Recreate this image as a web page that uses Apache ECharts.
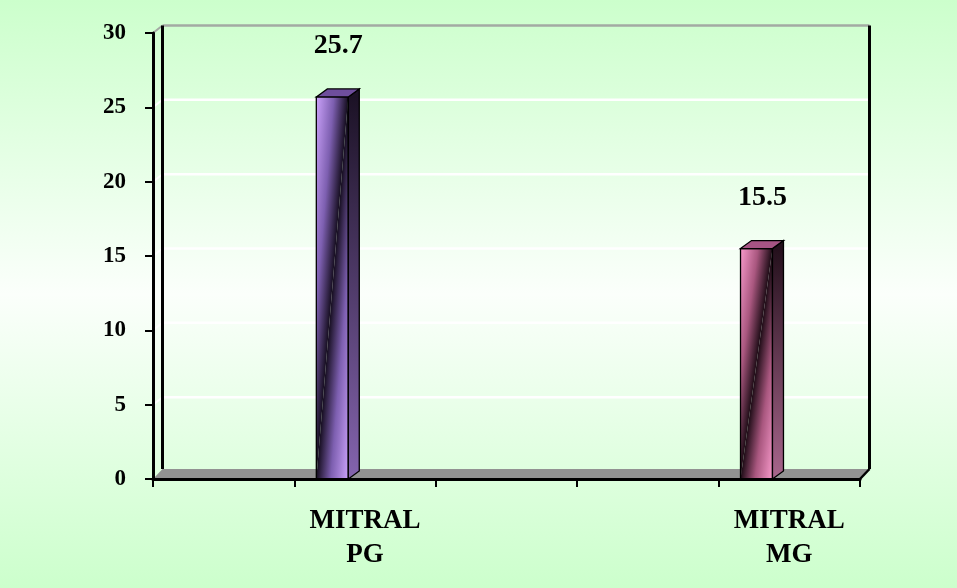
<!DOCTYPE html>
<html><head><meta charset="utf-8">
<script src="https://cdn.jsdelivr.net/npm/echarts@6/dist/echarts.min.js"></script>
<style>html,body{margin:0;padding:0;width:957px;height:588px;overflow:hidden}#c{width:957px;height:588px}</style>
</head><body><div id="c"></div>
<script>
// ---- data ----
const categories = ['', 'MITRAL\nPG', '', '', 'MITRAL\nMG'];
const values = [null, 25.7, null, null, 15.5];
const yTicks = [0, 5, 10, 15, 20, 25, 30];

// ---- styles ----
const FONT = '"Liberation Serif", "Times New Roman", serif';
const palettes = {
  1: {light: '#cba2fa', mid: '#7d5fb0', dark: '#160e20', sideTop: '#1c1226', sideBot: '#8464ae', top: '#6e4e9c'},
  4: {light: '#f89acb', mid: '#a9577f', dark: '#1e0c16', sideTop: '#24101c', sideBot: '#a8668c', top: '#a65484'}
};
const DX = 11, DY = -8;        // bar depth
const WX = 9.5, WY = -7.5;     // wall depth
const FY = -10;                // floor depth

const barData = [];
values.forEach((v, i) => { if (v !== null) barData.push([i, v]); });

const chart = echarts.init(document.getElementById('c'));

function gradGlobal(x1, y1, x2, y2, stops) {
  return {type: 'linear', x: x1, y: y1, x2: x2, y2: y2, global: true,
    colorStops: stops.map(s => ({offset: s[0], color: s[1]}))};
}

chart.setOption({
  backgroundColor: {type: 'linear', x: 0, y: 0, x2: 0, y2: 1, colorStops: [
    {offset: 0, color: '#ccffcc'}, {offset: 0.5, color: '#fbfffb'}, {offset: 1, color: '#ccffcc'}]},
  animation: false,
  grid: {left: 153, right: 97, top: 33, bottom: 109},
  xAxis: {
    type: 'category', data: categories, z: 10,
    axisLine: {lineStyle: {color: '#000', width: 3}},
    axisTick: {show: true, length: 8, lineStyle: {color: '#000', width: 2}},
    axisLabel: {color: '#000', fontFamily: FONT, fontWeight: 'bold', fontSize: 27, lineHeight: 34, margin: 25, interval: 0}
  },
  yAxis: {
    type: 'value', min: 0, max: 30, interval: 5, z: 10,
    axisLine: {show: true, lineStyle: {color: '#000', width: 3}},
    axisTick: {show: true, length: 8, lineStyle: {color: '#000', width: 2}},
    axisLabel: {color: '#000', fontFamily: FONT, fontWeight: 'bold', fontSize: 23, margin: 27},
    splitLine: {show: false}
  },
  series: [
    {
      type: 'custom', z: 1, silent: true,
      data: [[0, 0]],
      renderItem(params, api) {
        const cs = params.coordSys;
        const L = cs.x, R = cs.x + cs.width, T = cs.y;
        const y0 = api.coord([0, 0])[1];
        const ch = [];
        // gridlines
        yTicks.forEach(t => {
          if (t === 0) return;
          const y = api.coord([0, t])[1];
          const col = t === 30 ? '#a3aaa3' : '#ffffff';
          ch.push({type: 'line', shape: {x1: L + WX, y1: y + WY, x2: R + WX, y2: y + WY}, style: {stroke: col, lineWidth: 2.5}});
          ch.push({type: 'line', shape: {x1: L, y1: y, x2: L + WX, y2: y + WY}, style: {stroke: col, lineWidth: 2}});
        });
        // back-left wall edge
        ch.push({type: 'line', shape: {x1: L + WX, y1: T + WY, x2: L + WX, y2: y0 + FY}, style: {stroke: '#000', lineWidth: 3}});
        // right wall edge
        ch.push({type: 'line', shape: {x1: R + WX, y1: T + WY, x2: R + WX, y2: y0 + FY}, style: {stroke: '#000', lineWidth: 3}});
        // floor
        ch.push({type: 'polygon', shape: {points: [[L, y0], [L + WX, y0 + FY], [R + WX, y0 + FY], [R, y0]]},
          style: {fill: '#929292'}});
        ch.push({type: 'line', shape: {x1: R, y1: y0, x2: R + WX, y2: y0 + FY}, style: {stroke: '#000', lineWidth: 2.5}});
        return {type: 'group', children: ch};
      }
    },
    {
      type: 'custom', z: 3,
      data: barData,
      renderItem(params, api) {
        const ci = api.value(0), v = api.value(1);
        const p = palettes[ci];
        const top = api.coord([ci, v]);
        const base = api.coord([ci, 0]);
        const bw = api.size([1, 0])[0];
        const x0 = top[0] - bw * 0.345, x1 = x0 + bw * 0.226;
        const yT = top[1], yB = base[1];
        // diagonal from (x1,yT) to (x0,yB); perpendicular feet
        const ux = x0 - x1, uy = yB - yT, ul = Math.hypot(ux, uy);
        const foot = (px, py) => {
          const t = ((px - x1) * ux + (py - yT) * uy) / (ul * ul);
          return [x1 + t * ux, yT + t * uy];
        };
        const fA = foot(x0, yT), fB = foot(x1, yB);
        const ch = [];
        ch.push({type: 'polygon', shape: {points: [[x0, yT], [x1, yT], [x0, yB]]},
          style: {fill: gradGlobal(x0, yT, fA[0], fA[1], [[0, p.light], [0.55, p.mid], [1, p.dark]])}});
        ch.push({type: 'polygon', shape: {points: [[x1, yT], [x1, yB], [x0, yB]]},
          style: {fill: gradGlobal(fB[0], fB[1], x1, yB, [[0, p.dark], [0.45, p.mid], [1, p.light]])}});
        ch.push({type: 'rect', shape: {x: x0, y: yT, width: x1 - x0, height: yB - yT},
          style: {fill: null, stroke: '#000', lineWidth: 1.3}});
        ch.push({type: 'polygon', shape: {points: [[x1, yT], [x1 + DX, yT + DY], [x1 + DX, yB + DY], [x1, yB]]},
          style: {fill: gradGlobal(0, yT, 0, yB, [[0, p.sideTop], [1, p.sideBot]]), stroke: '#000', lineWidth: 1.3}});
        ch.push({type: 'polygon', shape: {points: [[x0, yT], [x0 + DX, yT + DY], [x1 + DX, yT + DY], [x1, yT]]},
          style: {fill: p.top, stroke: '#000', lineWidth: 1.3}});
        ch.push({type: 'text', x: (x0 + x1) / 2 + 6, y: yT - 51,
          style: {text: String(v), fill: '#000', font: 'bold 28px ' + FONT, align: 'center', verticalAlign: 'middle'}});
        return {type: 'group', children: ch};
      }
    }
  ]
});
</script>
</body></html>
